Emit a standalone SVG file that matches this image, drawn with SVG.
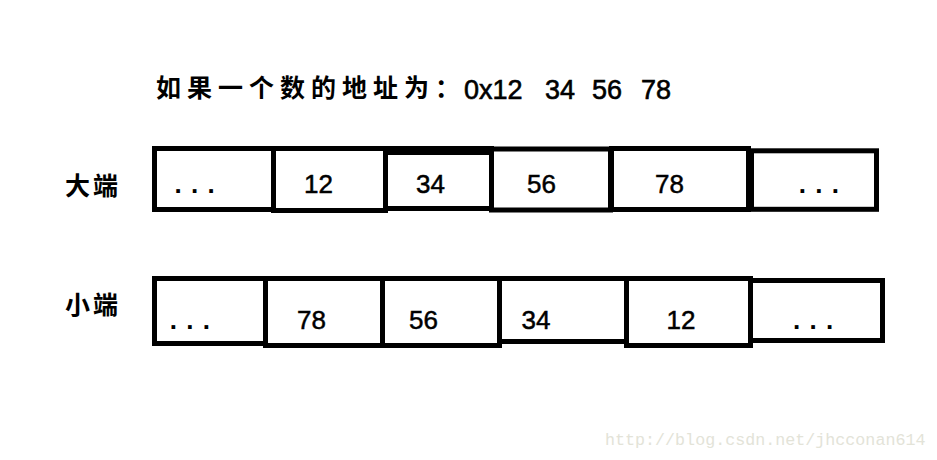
<svg xmlns="http://www.w3.org/2000/svg" width="937" height="460" viewBox="0 0 937 460">
<style>
  .cell { fill: none; stroke: #000; stroke-width: 5; }
  .num { font-family: "Liberation Sans", Arial, sans-serif; font-size: 26px; fill: #000; stroke: #000; stroke-width: 0.5px; }
  .dots { font-family: "Liberation Sans", Arial, sans-serif; font-size: 26px; fill: #000; letter-spacing: 9.3px; font-weight: bold; }
  .cjk { font-family: "Noto Sans CJK SC", sans-serif; font-weight: bold; fill: #000; }
  .title-num { font-family: "Liberation Sans", Arial, sans-serif; font-size: 27px; fill: #000; stroke: #000; stroke-width: 0.6px; }
  .mark { font-family: "Liberation Mono", "DejaVu Sans Mono", monospace; font-size: 16.7px; fill: #e3e3d8; }
</style>
<rect width="937" height="460" fill="#fff"/>

<g id="title">
  <text class="cjk" x="156" y="97" font-size="25" letter-spacing="6">如果一个数的地址为</text>
  <text class="cjk" x="435" y="97" font-size="25">：</text>
  <text class="title-num" x="464" y="99">0x12</text>
  <text class="title-num" x="545" y="99">34</text>
  <text class="title-num" x="592" y="99">56</text>
  <text class="title-num" x="641" y="99">78</text>
</g>

<g id="label-big">
  <text class="cjk" x="65" y="195" font-size="25" letter-spacing="3">大端</text>
</g>
<g id="label-little">
  <text class="cjk" x="65" y="314" font-size="25" letter-spacing="3">小端</text>
</g>

<g id="big-endian">
  <g id="big-1"><rect class="cell" x="154.5" y="148.5" width="119" height="61"/><text class="dots" x="174.5" y="193">...</text></g>
  <g id="big-2"><rect class="cell" x="273.5" y="148.5" width="112" height="62"/><text class="num" x="304" y="193">12</text></g>
  <g id="big-3"><rect class="cell" x="385.5" y="148.5" width="106" height="60"/><rect x="385" y="150" width="107" height="5" fill="#000"/><text class="num" x="416" y="193">34</text></g>
  <g id="big-4"><rect class="cell" x="491.5" y="149" width="119" height="61"/><text class="num" x="527" y="193">56</text></g>
  <g id="big-5"><rect class="cell" x="611.5" y="148.5" width="137" height="61"/><text class="num" x="655" y="193">78</text></g>
  <g id="big-6"><rect class="cell" x="751.5" y="150.8" width="125" height="58.5"/><text class="dots" x="798.7" y="193">...</text></g>
</g>

<g id="little-endian">
  <g id="little-1"><rect class="cell" x="154.5" y="278.5" width="111" height="65"/><text class="dots" x="169.7" y="329">...</text></g>
  <g id="little-2"><rect class="cell" x="265.5" y="278.5" width="117" height="67"/><text class="num" x="297" y="329">78</text></g>
  <g id="little-3"><rect class="cell" x="382.5" y="278.5" width="117" height="67"/><text class="num" x="409" y="329">56</text></g>
  <g id="little-4"><rect class="cell" x="499.5" y="278.5" width="127" height="63"/><text class="num" x="521.5" y="329">34</text></g>
  <g id="little-5"><rect class="cell" x="626.5" y="278.5" width="124" height="67"/><text class="num" x="666.5" y="329">12</text></g>
  <g id="little-6"><rect class="cell" x="750.5" y="280.5" width="132" height="60"/><text class="dots" x="793" y="329">...</text></g>
</g>

<g id="connectors"></g>

<text class="mark" x="605" y="445">http://blog.csdn.net/jhcconan614</text>
</svg>
